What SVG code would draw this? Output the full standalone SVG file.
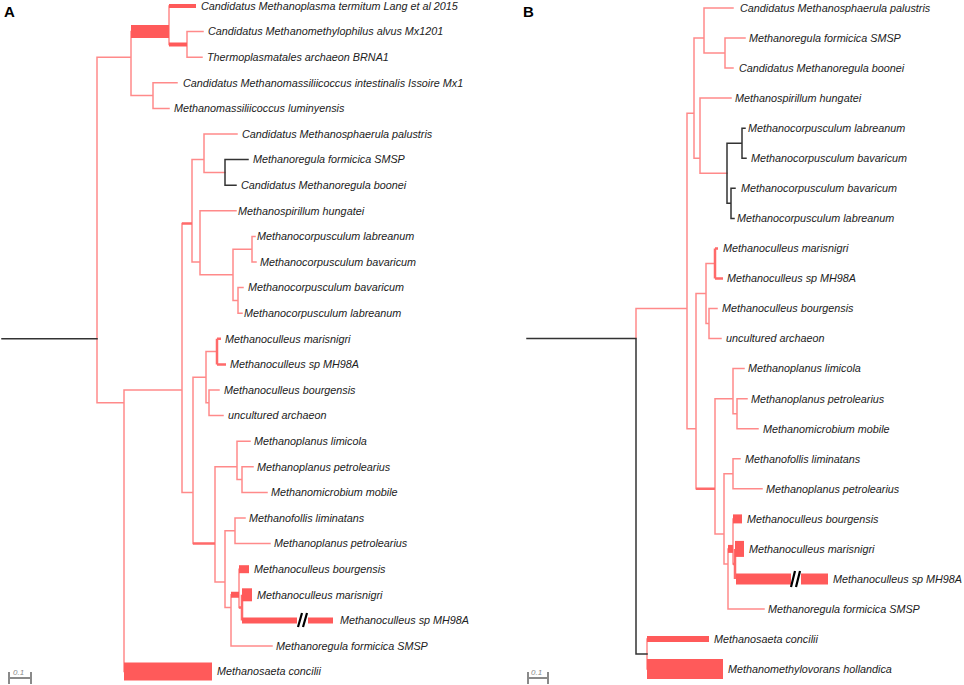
<svg xmlns="http://www.w3.org/2000/svg" width="964" height="685" viewBox="0 0 964 685">
<style>
.b{fill:none;stroke:#ff8a8a;stroke-width:1.5;stroke-linecap:square}
.m{fill:none;stroke:#ff6a6a;stroke-width:2.5;stroke-linecap:butt}
.k{fill:none;stroke:#333;stroke-width:1.5;stroke-linecap:square}
.t{fill:none;stroke:#ff5a5a;stroke-linecap:butt}
.brk{fill:none;stroke:#000;stroke-width:2.2}
.sc{fill:none;stroke:#8a8a8a;stroke-width:2}
text{font-family:"Liberation Sans",Arial,sans-serif}
.l{font-size:10.8px;font-style:italic;fill:#222}
.p{font-size:15px;font-weight:bold;fill:#000}
.s{font-size:8px;font-style:italic;fill:#8a8a8a}
</style>
<rect width="964" height="685" fill="#fff"/>
<g id="connectors">
<path class="b" d="M97,57.2V402.8M97,57.2H131M97,402.8H124M131,31.6V95.6M131,95.6H153M153,82.8V108.4M153,82.8H177M153,108.4H169M169,6V44.4M187,31.6V57.2M187,31.6H203M187,57.2H202M124,390V671.6M124,390H182M182,223.6V492.4M182,492.4H193M192,159.6V262M192,159.6H204M192,262H200M204,134V172.4M204,134H237M204,172.4H225M200,210.8V274.8M200,210.8H236M200,274.8H233M233,249.2V300.4M233,249.2H252M233,300.4H238M252,236.4V262M252,236.4H255M252,262H256M238,287.6V313.2M238,287.6H243M238,313.2H242M193,377.2V543.6M193,377.2H206M206,351.6V402.8M206,351.6H217M206,402.8H209M209,390V415.6M209,390H219M209,415.6H223M215,466.8V582M215,466.8H237M215,582H225M237,441.2V479.6M237,441.2H250M237,479.6H242M242,466.8V492.4M242,466.8H253M242,492.4H267M225,530.8V607.6M225,530.8H235M235,518V543.6M235,518H245M235,543.6H270M225,607.6H231M231,594.8V646M231,646H272M239,569.2V607.6"/>
<path class="m" d="M182,223.6H192M193,543.6H215M217,338.8V364.4M217,338.8H221M217,364.4H226M239,607.6H242M242,594.8V620.4"/>
<path class="k" d="M2,338.8H97M225,159.6V185.2M225,159.6H248M225,185.2H236"/>
<path class="t" stroke-width="13" d="M131,31.6H169"/>
<path class="t" stroke-width="4" d="M169,6H196M169,44.4H187"/>
<path class="t" stroke-width="18" d="M124,671.6H212"/>
<path class="t" stroke-width="6" d="M231,594.8H239M242,620.4H297M308,620.4H333"/>
<path class="t" stroke-width="8" d="M239,569.2H249"/>
<path class="t" stroke-width="13" d="M242,594.8H252"/>
<path class="brk" d="M298,627L302,613M303,627L307,613"/>

<path class="b" d="M636,308.5V338.6M636,308.5H687M647,639V669.1M687,113.2V428.7M687,113.2H694M687,428.7H696M694,38V158.3M694,38H704M694,158.3H700M704,8V53M704,8H733M704,53H725M725,38V68M725,38H745M725,68H733M700,98V173.3M700,98H731M700,173.3H727M696,293.5V488.8M696,293.5H706M706,263.4V323.5M706,263.4H715M706,323.5H709M709,308.5V338.6M709,308.5H717M709,338.6H721M715,398.7V533.9M715,398.7H733M733,368.6V413.7M733,368.6H744M733,413.7H737M737,398.7V428.7M737,398.7H747M737,428.7H758M715,533.9H724M724,473.8V563.9M724,473.8H733M733,458.8V488.8M733,458.8H740M733,488.8H762M724,563.9H728M728,548.9V609M728,609H764M733,518.9V564"/>
<path class="m" d="M696,488.8H715M715,248.4V278.5M715,248.4H718M715,278.5H723M733,564H735M735,548.9V579"/>
<path class="k" d="M527,338.6H636M636,338.6V654M636,654H647M727,143.2V203.3M727,143.2H742M742,128.2V158.3M742,128.2H745M742,158.3H746M727,203.3H731M731,188.3V218.4M731,188.3H735M731,218.4H734"/>
<path class="t" stroke-width="6" d="M647,639H709"/>
<path class="t" stroke-width="20" d="M647,669.1H723"/>
<path class="t" stroke-width="8" d="M728,548.9H733"/>
<path class="t" stroke-width="9" d="M733,518.9H742"/>
<path class="t" stroke-width="16" d="M735,548.9H744"/>
<path class="t" stroke-width="11" d="M736,579H791M801,579H828"/>
<path class="brk" d="M791,587L795,571M796,587L800,571"/>
</g>

<g id="panel-labels">
<text class="p" x="4" y="17">A</text>
<text class="p" x="523" y="17">B</text>
</g>

<g id="scale-A">
<path class="sc" d="M9,678H31M9,672V684M31,672V684"/>
<text class="s" x="13" y="675">0.1</text>
</g>
<g id="scale-B">
<path class="sc" d="M528,678H548M528,672V684M548,672V684"/>
<text class="s" x="531" y="675">0.1</text>
</g>

<g id="tree-A">
<g id="a01"><text class="l" x="201" y="9.8">Candidatus Methanoplasma termitum Lang et al 2015</text></g>
<g id="a02"><text class="l" x="208" y="35.4">Candidatus Methanomethylophilus alvus Mx1201</text></g>
<g id="a03"><text class="l" x="207" y="61">Thermoplasmatales archaeon BRNA1</text></g>
<g id="a04"><text class="l" x="183" y="86.6">Candidatus Methanomassiliicoccus intestinalis Issoire Mx1</text></g>
<g id="a05"><text class="l" x="174" y="112.2">Methanomassiliicoccus luminyensis</text></g>
<g id="a06"><text class="l" x="242" y="137.8">Candidatus Methanosphaerula palustris</text></g>
<g id="a07"><text class="l" x="253" y="163.4">Methanoregula formicica SMSP</text></g>
<g id="a08"><text class="l" x="241" y="189">Candidatus Methanoregula boonei</text></g>
<g id="a09"><text class="l" x="238" y="214.6">Methanospirillum hungatei</text></g>
<g id="a10"><text class="l" x="257" y="240.2">Methanocorpusculum labreanum</text></g>
<g id="a11"><text class="l" x="260" y="265.8">Methanocorpusculum bavaricum</text></g>
<g id="a12"><text class="l" x="248" y="291.4">Methanocorpusculum bavaricum</text></g>
<g id="a13"><text class="l" x="244" y="317">Methanocorpusculum labreanum</text></g>
<g id="a14"><text class="l" x="225" y="342.6">Methanoculleus marisnigri</text></g>
<g id="a15"><text class="l" x="230" y="368.2">Methanoculleus sp MH98A</text></g>
<g id="a16"><text class="l" x="224" y="393.8">Methanoculleus bourgensis</text></g>
<g id="a17"><text class="l" x="228" y="419.4">uncultured archaeon</text></g>
<g id="a18"><text class="l" x="254" y="445">Methanoplanus limicola</text></g>
<g id="a19"><text class="l" x="257" y="470.6">Methanoplanus petrolearius</text></g>
<g id="a20"><text class="l" x="271" y="496.2">Methanomicrobium mobile</text></g>
<g id="a21"><text class="l" x="249" y="521.8">Methanofollis liminatans</text></g>
<g id="a22"><text class="l" x="274" y="547.4">Methanoplanus petrolearius</text></g>
<g id="a23"><text class="l" x="254" y="573">Methanoculleus bourgensis</text></g>
<g id="a24"><text class="l" x="257" y="598.6">Methanoculleus marisnigri</text></g>
<g id="a25"><text class="l" x="340" y="624.2">Methanoculleus sp MH98A</text></g>
<g id="a26"><text class="l" x="276" y="649.8">Methanoregula formicica SMSP</text></g>
<g id="a27"><text class="l" x="217" y="675.4">Methanosaeta concilii</text></g>
</g>

<g id="tree-B">
<g id="b01"><text class="l" x="740" y="11.8">Candidatus Methanosphaerula palustris</text></g>
<g id="b02"><text class="l" x="749" y="41.8">Methanoregula formicica SMSP</text></g>
<g id="b03"><text class="l" x="739" y="71.9">Candidatus Methanoregula boonei</text></g>
<g id="b04"><text class="l" x="735" y="101.9">Methanospirillum hungatei</text></g>
<g id="b05"><text class="l" x="748" y="132">Methanocorpusculum labreanum</text></g>
<g id="b06"><text class="l" x="751" y="162.1">Methanocorpusculum bavaricum</text></g>
<g id="b07"><text class="l" x="741" y="192.1">Methanocorpusculum bavaricum</text></g>
<g id="b08"><text class="l" x="737" y="222.2">Methanocorpusculum labreanum</text></g>
<g id="b09"><text class="l" x="723" y="252.2">Methanoculleus marisnigri</text></g>
<g id="b10"><text class="l" x="727" y="282.3">Methanoculleus sp MH98A</text></g>
<g id="b11"><text class="l" x="722" y="312.3">Methanoculleus bourgensis</text></g>
<g id="b12"><text class="l" x="726" y="342.4">uncultured archaeon</text></g>
<g id="b13"><text class="l" x="748" y="372.4">Methanoplanus limicola</text></g>
<g id="b14"><text class="l" x="751" y="402.5">Methanoplanus petrolearius</text></g>
<g id="b15"><text class="l" x="763" y="432.5">Methanomicrobium mobile</text></g>
<g id="b16"><text class="l" x="745" y="462.6">Methanofollis liminatans</text></g>
<g id="b17"><text class="l" x="766" y="492.6">Methanoplanus petrolearius</text></g>
<g id="b18"><text class="l" x="747" y="522.7">Methanoculleus bourgensis</text></g>
<g id="b19"><text class="l" x="749" y="552.7">Methanoculleus marisnigri</text></g>
<g id="b20"><text class="l" x="833" y="582.8">Methanoculleus sp MH98A</text></g>
<g id="b21"><text class="l" x="768" y="612.8">Methanoregula formicica SMSP</text></g>
<g id="b22"><text class="l" x="714" y="642.9">Methanosaeta concilii</text></g>
<g id="b23"><text class="l" x="728" y="672.9">Methanomethylovorans hollandica</text></g>
</g>
</svg>
